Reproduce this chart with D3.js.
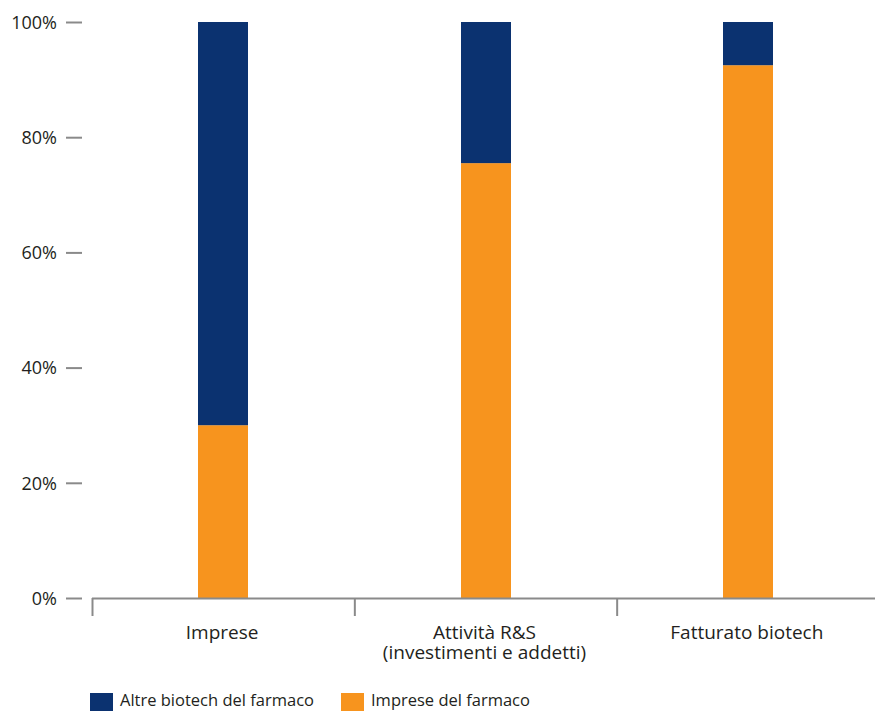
<!DOCTYPE html>
<html>
<head>
<meta charset="utf-8">
<script src="https://cdn.jsdelivr.net/npm/d3@7"></script>
<style>
  body { margin: 0; background: #fff; }
  svg text { font-family: "Open Sans", "Noto Sans", sans-serif; fill: #231f20; }
</style>
</head>
<body>
<svg id="chart" width="875" height="711"></svg>
<script>
// Categories (multi-line labels split on "\n")
const categories = ["Imprese", "Attività R&S\n(investimenti e addetti)", "Fatturato biotech"];
// Share of each category held by pharma companies (%)
const impreseFarmaco = [30, 75.5, 92.5];
// Remaining share: other pharma biotech (%)
const altreBiotech = impreseFarmaco.map(v => 100 - v);
const seriesNames = ["Altre biotech del farmaco", "Imprese del farmaco"];
const seriesColors = ["#0b3270", "#f7941e"];
const yTicks = [0, 20, 40, 60, 80, 100];

const svg = d3.select("#chart");

const x = d3.scaleBand().domain(categories).range([92, 879]).paddingInner(0).paddingOuter(0);
const y = d3.scaleLinear().domain([0, 100]).range([598, 22]);
const barW = 50;

// Stacked data: orange at bottom, navy on top
const rows = categories.map((c, i) => ({ cat: c, farmaco: impreseFarmaco[i], altre: altreBiotech[i] }));
const stack = d3.stack().keys(["farmaco", "altre"]);
const layers = stack(rows);
const layerColor = { farmaco: seriesColors[1], altre: seriesColors[0] };

svg.append("g").selectAll("g").data(layers).join("g")
  .attr("fill", d => layerColor[d.key])
  .selectAll("rect").data(d => d).join("rect")
  .attr("x", d => Math.round(x(d.data.cat) + x.bandwidth() / 2 - barW / 2))
  .attr("width", barW)
  .attr("y", d => y(d[1]))
  .attr("height", d => y(d[0]) - y(d[1]));

// Y axis: ticks only, no domain line
const yAxis = svg.append("g").attr("transform", "translate(82,0)")
  .call(d3.axisLeft(y).tickValues(yTicks).tickFormat(d => d + "%").tickSize(16).tickPadding(9));
yAxis.select(".domain").remove();
yAxis.selectAll(".tick line").attr("stroke", "#8a8a8a").attr("stroke-width", 2);
yAxis.selectAll(".tick text").attr("font-size", 18).style("fill", "#231f20")
  .attr("font-family", "'Open Sans', sans-serif").attr("dy", "0.35em");

// X axis: baseline with separators between categories
const xg = svg.append("g");
xg.append("line").attr("x1", 92).attr("x2", 875).attr("y1", 598.5).attr("y2", 598.5)
  .attr("stroke", "#8a8a8a").attr("stroke-width", 2);
const seps = categories.map(c => x(c));
xg.selectAll("line.sep").data(seps).join("line").attr("class", "sep")
  .attr("x1", d => d + 0.5).attr("x2", d => d + 0.5).attr("y1", 598).attr("y2", 616)
  .attr("stroke", "#8a8a8a").attr("stroke-width", 2);

// Category labels, one text element per line
const labelLines = categories.flatMap(c => c.split("\n").map((t, i) => ({ cat: c, t, i })));
xg.selectAll("text.cat").data(labelLines).join("text").attr("class", "cat")
  .attr("text-anchor", "middle").attr("font-size", 19)
  .attr("x", d => x(d.cat) + x.bandwidth() / 2 - 1)
  .attr("y", d => 639 + d.i * 19.5)
  .text(d => d.t);

// Legend
const legendX = [90, 341];
const lg = svg.append("g").selectAll("g").data(seriesNames).join("g")
  .attr("transform", (d, i) => `translate(${legendX[i]},693)`);
lg.append("rect").attr("width", 23).attr("height", 18).attr("fill", (d, i) => seriesColors[i]);
lg.append("text").attr("x", 30).attr("y", 13).attr("font-size", 16.5).text(d => d);
</script>
</body>
</html>
